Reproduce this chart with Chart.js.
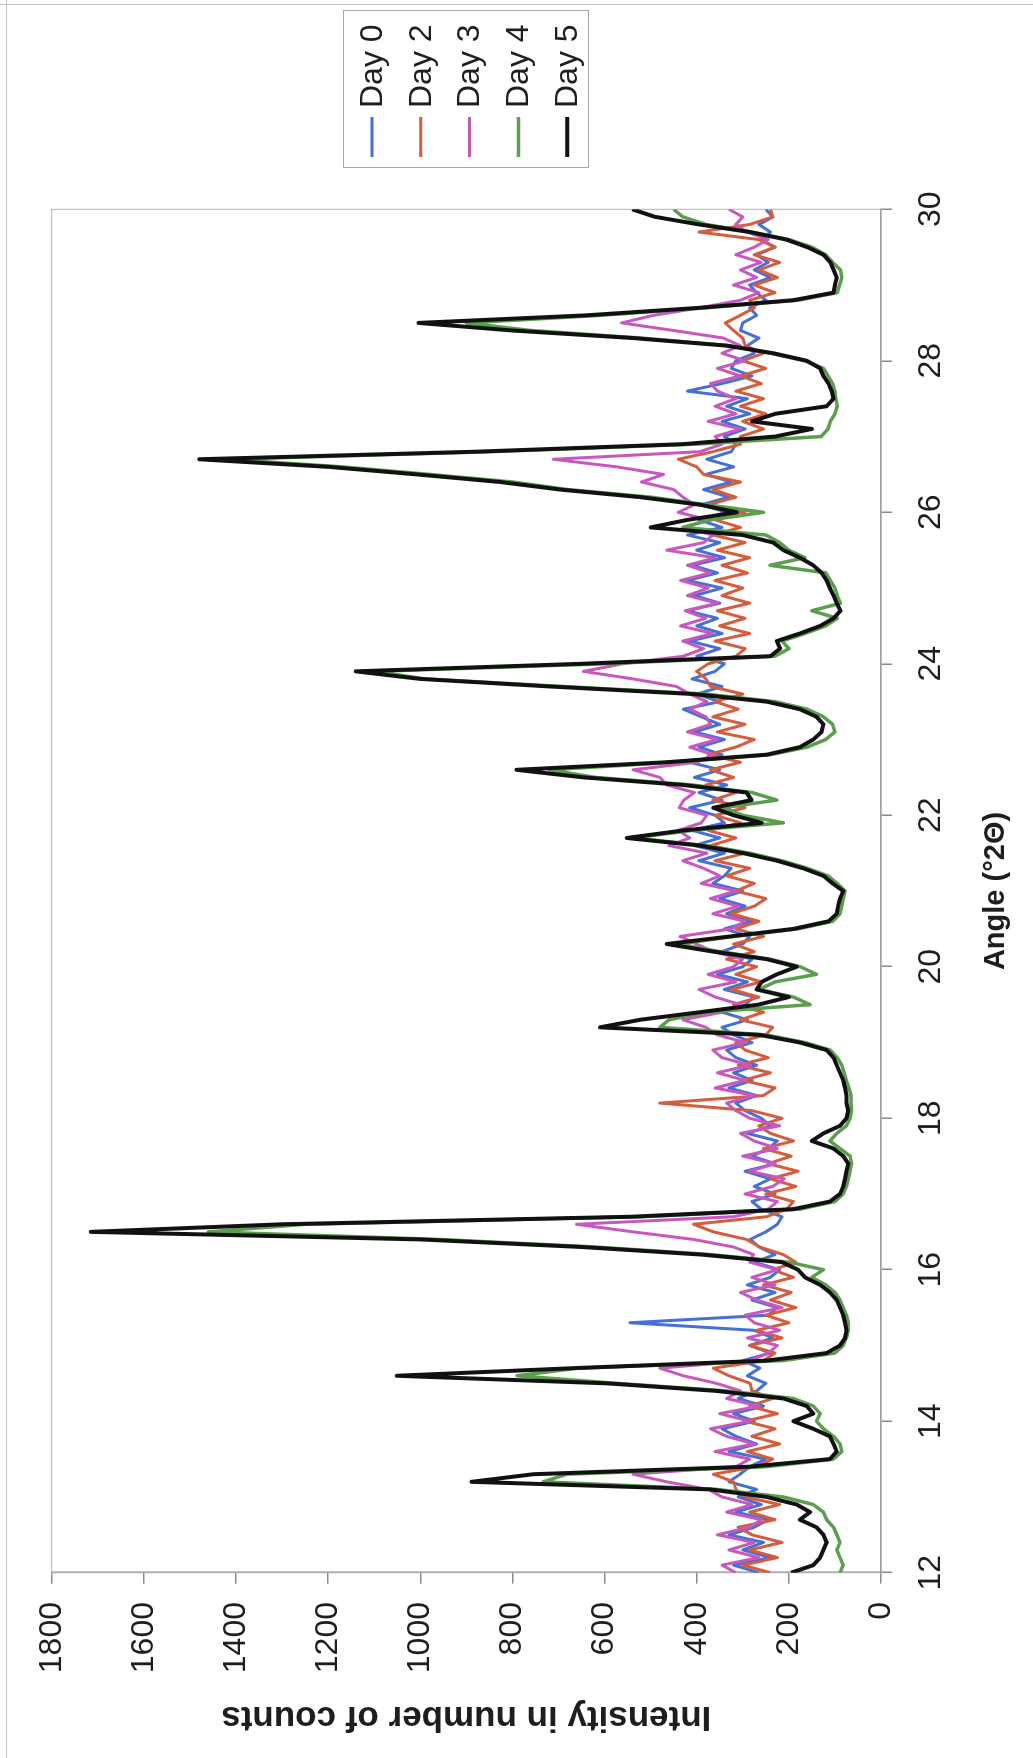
<!DOCTYPE html>
<html>
<head>
<meta charset="utf-8">
<script src="https://cdn.jsdelivr.net/npm/chart.js@4.4.1/dist/chart.umd.min.js"></script>
<style>
  html, body { margin: 0; padding: 0; background: #ffffff; overflow: hidden; width: 1033px; height: 1758px; }
  /* the diffractogram is laid out landscape and turned a quarter turn onto the portrait page */
  #frame { position: absolute; left: 0; top: 0; width: 1758px; height: 1033px;
           transform-origin: 0 0; transform: translate(0, 1758px) rotate(-90deg); }
</style>
</head>
<body>
<div id="frame"><canvas id="xrd" width="1758" height="1033"></canvas></div>
<script>
// Scan grid: 12.0 to 30.0 degrees 2-theta in 0.1 degree steps
const angles = Array.from({ length: 181 }, (_, i) => Math.round((12 + i * 0.1) * 10) / 10);

const seriesNames = ['Day 0', 'Day 2', 'Day 3', 'Day 4', 'Day 5'];
const intensityTicks = [0, 200, 400, 600, 800, 1000, 1200, 1400, 1600, 1800];
const angleTicks = [12, 14, 16, 18, 20, 22, 24, 26, 28, 30];

// Counts per step, one row per degree (x.0 ... x.9), last value at 30.0
const day0 = [
  265,320,240,300,255,330,275,245,315,260,
  310,270,330,306,285,250,330,270,315,345,
  275,320,255,310,270,250,290,263,300,240,
  285,235,275,545,245,225,280,230,290,240,
  220,275,230,265,284,250,225,215,260,280,
  230,275,240,295,230,280,245,225,290,240,
  260,295,315,270,330,280,320,270,315,335,
  280,320,345,290,345,295,275,340,290,355,
  300,280,345,300,285,340,280,335,295,350,
  300,365,340,325,395,340,405,350,410,340,
  360,415,345,395,335,405,350,415,345,395,
  340,405,350,390,429,350,400,345,410,360,
  340,400,350,415,345,400,355,420,350,405,
  345,420,355,410,340,400,350,420,345,395,
  335,390,330,385,325,380,320,378,325,315,
  340,295,345,285,335,290,420,345,280,325,
  315,275,290,265,305,300,270,285,250,270,
  285,240,275,245,270,230,260,240,265,235,
  250
];

const day2 = [
  240,300,225,285,215,280,310,230,285,220,
  295,315,320,364,270,235,290,220,280,230,
  295,225,285,235,280,284,330,364,255,230,
  285,215,270,200,250,185,240,195,255,190,
  235,185,212,263,292,364,407,248,205,190,
  250,185,240,180,245,195,255,190,240,265,
  215,280,480,255,230,300,240,310,245,295,
  315,250,235,305,255,320,265,325,260,315,
  270,335,275,320,255,315,265,325,275,250,
  315,275,335,285,360,295,370,315,375,305,
  360,295,365,315,380,320,370,305,375,315,
  275,355,295,365,310,360,300,370,380,400,
  375,315,295,360,285,350,295,355,285,345,
  300,360,290,345,285,355,295,365,305,360,
  295,375,315,365,305,385,400,440,365,305,
  305,255,300,250,305,255,315,260,305,250,
  300,255,295,300,320,338,305,275,285,230,
  275,225,265,220,275,230,265,395,285,235,
  240
];

const day3 = [
  315,345,265,330,275,355,285,260,335,280,
  345,375,465,538,315,285,360,275,335,370,
  285,350,265,335,305,357,429,480,285,245,
  225,290,220,275,295,215,270,305,230,280,
  225,285,277,320,407,538,661,320,245,225,
  295,235,210,285,230,300,225,275,305,220,
  285,315,335,275,360,295,355,285,345,365,
  295,355,380,430,345,305,360,395,315,375,
  320,300,365,400,436,325,295,365,310,370,
  315,390,350,385,430,378,460,415,440,390,
  378,438,428,405,465,480,538,400,365,415,
  355,420,370,380,415,378,415,444,538,646,
  560,429,385,430,365,435,380,425,355,420,
  375,435,370,420,360,465,385,365,430,375,
  440,405,430,450,520,472,574,711,393,345,
  360,305,375,315,360,315,355,370,305,355,
  295,345,305,342,450,563,494,393,305,265,
  320,270,305,260,315,275,245,290,315,300,
  330
];

const day4 = [
  89,82,89,96,89,96,103,118,125,147,
  212,357,733,682,248,103,85,89,103,125,
  140,132,147,190,335,574,790,660,212,100,
  82,75,71,71,75,82,89,100,120,150,
  125,200,370,620,960,1460,1250,520,176,100,
  82,75,71,67,64,67,89,111,96,75,
  67,64,65,65,70,75,80,85,95,110,
  165,250,480,460,380,154,190,265,230,140,
  175,240,350,440,320,180,105,89,85,82,
  78,95,115,160,215,285,380,538,410,212,
  300,342,226,280,410,620,720,450,240,160,
  120,100,105,125,160,230,380,690,990,1100,
  600,230,200,215,165,120,95,150,88,95,
  100,110,120,241,165,200,220,250,430,370,
  255,380,500,680,800,980,1170,1420,850,400,
  130,115,110,100,95,98,100,105,115,125,
  165,240,330,520,760,900,610,380,180,95,
  90,85,88,105,120,150,200,280,380,430,
  450
];

const day5 = [
  195,147,132,125,118,125,140,176,154,183,
  248,371,889,755,284,111,96,103,111,147,
  190,147,161,212,357,595,1051,670,248,118,
  89,78,75,78,82,89,96,111,132,165,
  180,215,390,650,1000,1715,1300,540,190,111,
  89,82,78,75,71,82,103,150,125,89,
  75,71,75,75,78,82,89,96,103,118,
  176,263,610,523,393,266,200,270,259,226,
  183,248,364,465,328,190,114,96,93,89,
  82,105,125,169,226,299,393,552,429,259,
  320,364,281,292,429,646,791,465,248,176,
  147,129,125,140,176,248,407,718,1000,1140,
  650,240,219,226,176,132,103,88,96,103,
  111,118,129,147,176,212,234,300,500,420,
  313,393,523,697,827,1008,1200,1480,878,429,
  230,150,280,230,118,103,107,114,125,132,
  161,234,335,538,800,1004,640,393,190,103,
  100,96,103,110,125,160,205,285,395,490,
  540
];

const seriesValues = [day0, day2, day3, day4, day5];
const seriesColors = ['#4470d8', '#d65c3c', '#c957c0', '#5a9e4e', '#111111'];
const seriesWidths = [3, 3, 3, 3.5, 4];

const FONT = '"Liberation Sans", Arial, Helvetica, sans-serif';
const TEXT = '#1e1e1e';
const AXIS = '#8a8a8a';

const datasets = seriesNames.map((name, i) => ({
  label: name,
  data: angles.map((a, j) => ({ x: a, y: seriesValues[i][j] })),
  borderColor: seriesColors[i],
  backgroundColor: seriesColors[i],
  borderWidth: seriesWidths[i],
  borderJoinStyle: 'round',
  pointRadius: 0,
  tension: 0,
  fill: false,
  order: seriesNames.length - 1 - i   // later days drawn over earlier ones
}));

// outer frame, plot-area outline and the boxed legend
const decorations = {
  id: 'decorations',
  beforeDraw(chart) {
    const ctx = chart.ctx;
    ctx.save();
    ctx.strokeStyle = '#c4c4c4';
    ctx.lineWidth = 1;
    ctx.beginPath();
    ctx.moveTo(0, 6.5); ctx.lineTo(1758, 6.5);
    ctx.moveTo(1753.5, 0); ctx.lineTo(1753.5, 1033);
    ctx.stroke();
    ctx.restore();
  },
  beforeDatasetsDraw(chart) {
    const { ctx, chartArea: a } = chart;
    ctx.save();
    ctx.strokeStyle = '#b4b4b4';
    ctx.lineWidth = 1;
    ctx.strokeRect(a.left, a.top, a.right - a.left, a.bottom - a.top);
    ctx.restore();
  },
  afterDraw(chart) {
    const ctx = chart.ctx;
    ctx.save();
    ctx.strokeStyle = '#a8a8a8';
    ctx.lineWidth = 1;
    ctx.strokeRect(1590.5, 343.5, 157, 245);
    ctx.font = '32px ' + FONT;
    ctx.fillStyle = TEXT;
    ctx.textBaseline = 'middle';
    ctx.textAlign = 'left';
    chart.data.datasets.forEach((ds, i) => {
      const y = 372 + i * 48.8;
      ctx.strokeStyle = ds.borderColor;
      ctx.lineWidth = ds.borderWidth;
      ctx.beginPath();
      ctx.moveTo(1601, y);
      ctx.lineTo(1641, y);
      ctx.stroke();
      ctx.fillText(ds.label, 1650, y + 1);
    });
    ctx.restore();
  }
};

new Chart(document.getElementById('xrd'), {
  type: 'line',
  data: { datasets },
  options: {
    responsive: false,
    animation: false,
    devicePixelRatio: 1,
    parsing: true,
    layout: { padding: { top: 51.7, right: 209.3, left: 0, bottom: 0 } },
    plugins: { legend: { display: false }, tooltip: { enabled: false } },
    scales: {
      x: {
        type: 'linear',
        min: angleTicks[0],
        max: angleTicks[angleTicks.length - 1],
        afterBuildTicks: s => { s.ticks = angleTicks.map(v => ({ value: v })); },
        ticks: { font: { family: FONT, size: 32 }, color: TEXT, padding: 19.8, maxRotation: 0,
                 autoSkip: false, callback: v => String(v) },
        grid: { drawOnChartArea: false, tickLength: 11, color: AXIS, lineWidth: 1.5 },
        border: { color: AXIS, width: 1.5 },
        title: { display: true, text: 'Angle (°2Θ)', color: TEXT,
                 font: { family: FONT, size: 29, weight: 'bold' }, padding: { top: 0, bottom: 19.5 } },
        afterFit: s => { s.height = 152; }
      },
      y: {
        type: 'linear',
        min: intensityTicks[0],
        max: intensityTicks[intensityTicks.length - 1],
        afterBuildTicks: s => { s.ticks = intensityTicks.map(v => ({ value: v })); },
        ticks: { font: { family: FONT, size: 32 }, color: TEXT, padding: 18.3, autoSkip: false,
                 callback: v => String(v) },
        grid: { drawOnChartArea: false, tickLength: 11, color: AXIS, lineWidth: 1.5 },
        border: { color: AXIS, width: 1.5 },
        title: { display: true, text: 'Intensity in number of counts', color: TEXT,
                 font: { family: FONT, size: 35, weight: 'bold' }, padding: { top: 20, bottom: 0 } },
        afterFit: s => { s.width = 185.3; }
      }
    }
  },
  plugins: [decorations]
});
</script>
</body>
</html>
